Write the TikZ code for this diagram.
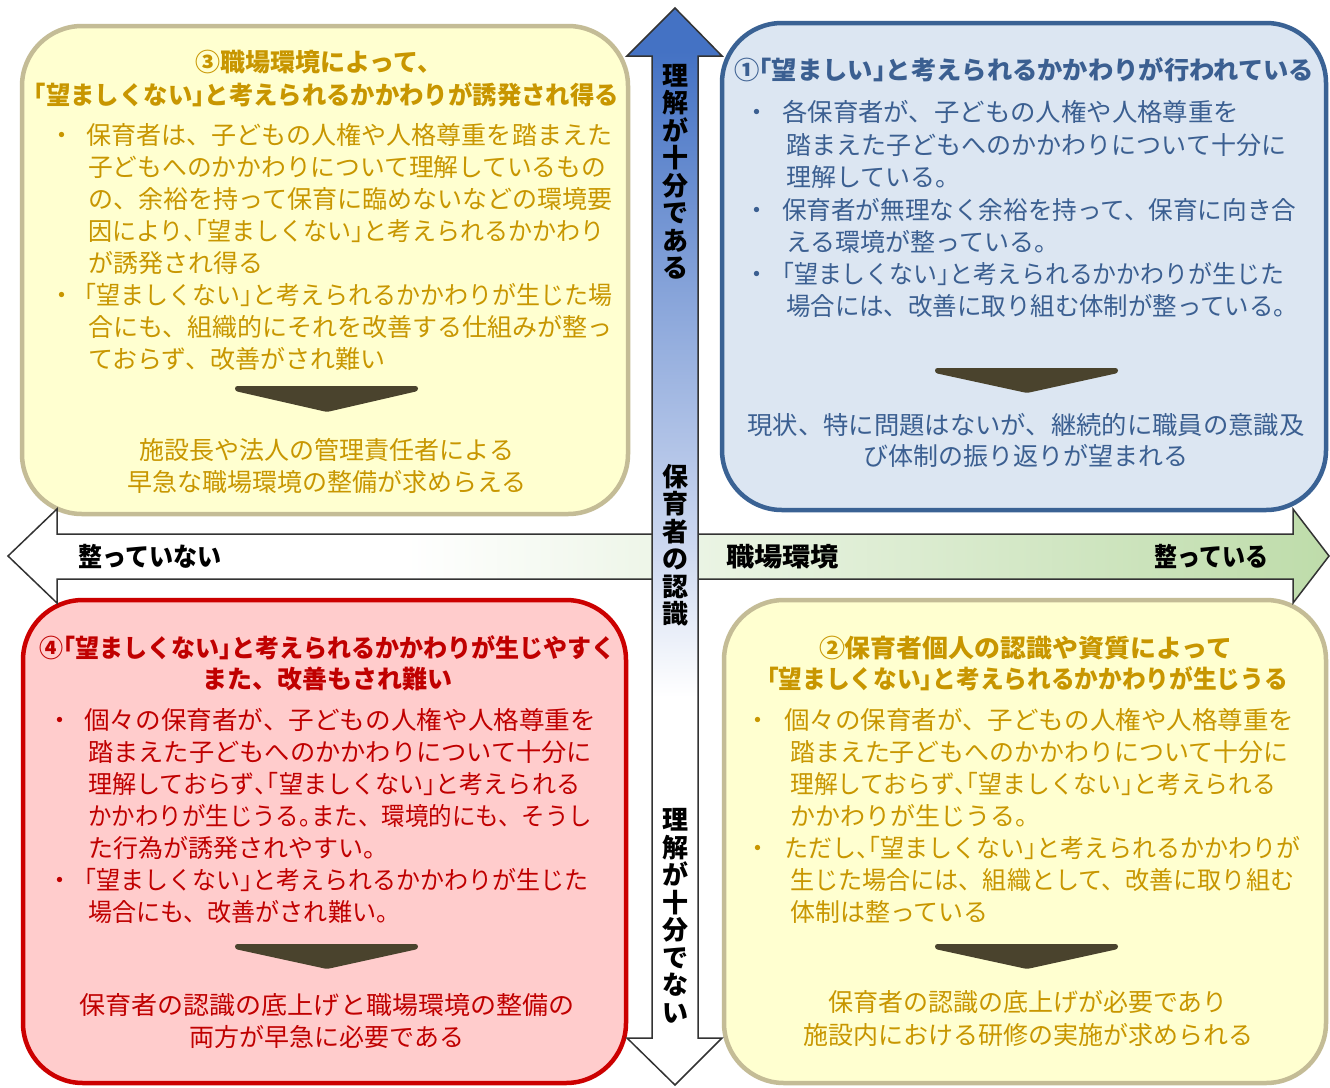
\documentclass[tikz,border=0pt]{standalone}
\usepackage{graphicx}
\usepackage{fontspec}
\setmainfont{Noto Sans CJK JP}
\newfontfamily\jph[RawFeature=+halt]{Noto Sans CJK JP}
\newcommand\jLB{{\jph 「}}
\newcommand\jRB{{\jph 」}}
\newcommand\jCL{{\jph 、「}}
\newcommand\jMR{{\jph 。}}
\newcommand\fw[2]{\resizebox{#1pt}{\height}{#2}}
\definecolor{tanB}{RGB}{196,188,150}
\definecolor{yelF}{RGB}{255,255,208}
\definecolor{bluB}{RGB}{58,98,148}
\definecolor{bluF}{RGB}{220,230,242}
\definecolor{redB}{RGB}{204,0,0}
\definecolor{redF}{RGB}{255,204,204}
\definecolor{txG}{RGB}{200,150,0}
\definecolor{txB}{RGB}{59,95,145}
\definecolor{txR}{RGB}{192,0,0}
\definecolor{chevC}{RGB}{74,67,45}
\definecolor{vtop}{RGB}{68,114,196}
\definecolor{vmid}{RGB}{205,216,240}
\definecolor{hgreen}{RGB}{190,220,170}
\pgfdeclareverticalshading{vsh}{100bp}{color(0bp)=(white); color(25bp)=(white); color(43bp)=(white); color(50bp)=(vmid); color(73bp)=(vtop); color(100bp)=(vtop)}
\pgfdeclarehorizontalshading{hsh}{100bp}{color(0bp)=(white); color(25bp)=(white); color(40bp)=(white); color(75bp)=(hgreen); color(100bp)=(hgreen)}
\tikzset{
 box/.style={line width=4.5pt, rounded corners=60pt},
 arrowline/.style={line width=1.5pt, draw=black!80, line join=miter},
 chev/.style={fill=chevC, rounded corners=2.5pt},
 body/.style={anchor=base west, inner sep=0pt, font=\fontsize{25}{30}\selectfont},
 ctr/.style={anchor=base, inner sep=0pt, font=\fontsize{25}{30}\selectfont},
 ttl/.style={anchor=base, inner sep=0pt, font=\bfseries\fontsize{25}{30}\selectfont},
 bul/.style={anchor=base, inner sep=0pt, font=\fontsize{25}{30}\selectfont},
 hlab/.style={anchor=base west, inner sep=0pt, font=\bfseries\fontsize{26}{30}\selectfont, text=black},
 vlab/.style={align=center, inner sep=0pt, font=\bfseries\fontsize{26}{27.5}\selectfont, text=black},
}
\begin{document}
\begin{tikzpicture}[x=1pt,y=-1pt]
\useasboundingbox[fill=white] (0,0) rectangle (1330,1087);

% quadrant boxes
\draw[box, draw=tanB, fill=yelF] (22,26) rectangle (628,514);
\draw[box, draw=bluB, fill=bluF] (722,23) rectangle (1326,510);
\draw[box, draw=redB, fill=redF] (23,600) rectangle (626,1083);
\draw[box, draw=tanB, fill=yelF] (724,600) rectangle (1326,1083);

% axes
\shadedraw[shading=hsh, arrowline] (8,556) -- (57,509) -- (57,534) -- (1293,534) -- (1293,509) -- (1329,556) -- (1293,603) -- (1293,579) -- (57,579) -- (57,603) -- cycle;
\shadedraw[shading=vsh, arrowline] (675,8) -- (722,56) -- (698,56) -- (698,1038) -- (722,1038) -- (675,1085) -- (627,1038) -- (652,1038) -- (652,56) -- (627,56) -- cycle;

% axis labels
\node[hlab] (hl1) at (78,566) {\fw{143}{整っていない}};
\node[hlab] (hl2) at (726,566) {\fw{113}{職場環境}};
\node[hlab] (hl3) at (1154,566) {\fw{114}{整っている}};
\node[vlab] (vl1) at (675,172) {理\\解\\が\\十\\分\\で\\あ\\る};
\node[vlab] (vl2) at (675,545) {保\\育\\者\\の\\認\\識};
\node[vlab] (vl3) at (675,916) {理\\解\\が\\十\\分\\で\\な\\い};

% box 3 (top left)
\node[ttl,text=txG] (t3a) at (319,71.5) {③職場環境によって、};
\node[ttl,text=txG] (t3b) at (326.5,104.5) {\fw{585}{\jLB{}望ましくない\jRB{}と考えられるかかわりが誘発され得る}};
\node[bul,text=txG] (d3a) at (62,144.5) {・};
\node[body,text=txG] (b3a) at (86,144.5) {\fw{526}{保育者は、子どもの人権や人格尊重を踏まえた}};
\node[body,text=txG] (b3b) at (88,176.5) {\fw{518}{子どもへのかかわりについて理解しているもの}};
\node[body,text=txG] (b3c) at (88,208.5) {\fw{524}{の、余裕を持って保育に臨めないなどの環境要}};
\node[body,text=txG] (b3d) at (88,240.5) {\fw{516}{因により\jCL{}望ましくない\jRB{}と考えられるかかわり}};
\node[body,text=txG] (b3e) at (88,272.5) {が誘発され得る};
\node[bul,text=txG] (d3b) at (62,304.5) {・};
\node[body,text=txG] (b3f) at (84,304.5) {\fw{528}{\jLB{}望ましくない\jRB{}と考えられるかかわりが生じた場}};
\node[body,text=txG] (b3g) at (88,336.5) {\fw{524}{合にも、組織的にそれを改善する仕組みが整っ}};
\node[body,text=txG] (b3h) at (88,368.5) {ておらず、改善がされ難い};
\fill[chev] (235,386) -- (418,386) -- (418,391) -- (327,412) -- (235,391) -- cycle;
\node[ctr,text=txG] (c3a) at (327,459.5) {施設長や法人の管理責任者による};
\node[ctr,text=txG] (c3b) at (327,491.5) {早急な職場環境の整備が求めらえる};

% box 1 (top right)
\node[ttl,text=txB] (t1a) at (1024,79.5) {\fw{580}{①\jLB{}望ましい\jRB{}と考えられるかかわりが行われている}};
\node[bul,text=txB] (d1a) at (757,121.5) {・};
\node[body,text=txB] (b1a) at (782,121.5) {\fw{457}{各保育者が、子どもの人権や人格尊重を}};
\node[body,text=txB] (b1b) at (786,154.5) {\fw{500}{踏まえた子どもへのかかわりについて十分に}};
\node[body,text=txB] (b1c) at (786,186.5) {理解している。};
\node[bul,text=txB] (d1b) at (757,219.5) {・};
\node[body,text=txB] (b1d) at (782,219.5) {\fw{514}{保育者が無理なく余裕を持って、保育に向き合}};
\node[body,text=txB] (b1e) at (786,251.5) {える環境が整っている。};
\node[bul,text=txB] (d1c) at (757,283.5) {・};
\node[body,text=txB] (b1f) at (782,283.5) {\fw{502}{\jLB{}望ましくない\jRB{}と考えられるかかわりが生じた}};
\node[body,text=txB] (b1g) at (786,315.5) {\fw{512}{場合には、改善に取り組む体制が整っている。}};
\fill[chev] (935,368) -- (1118,368) -- (1118,373) -- (1027,393) -- (935,373) -- cycle;
\node[ctr,text=txB] (c1a) at (1026,434.5) {\fw{557}{現状、特に問題はないが、継続的に職員の意識及}};
\node[ctr,text=txB] (c1b) at (1026,465.5) {び体制の振り返りが望まれる};

% box 4 (bottom left)
\node[ttl,text=txR] (t4a) at (327.5,657.5) {\fw{577}{④\jLB{}望ましくない\jRB{}と考えられるかかわりが生じやすく}};
\node[ttl,text=txR] (t4b) at (327,688.5) {また、改善もされ難い};
\node[bul,text=txR] (d4a) at (60,729.5) {・};
\node[body,text=txR] (b4a) at (84,729.5) {\fw{512}{個々の保育者が、子どもの人権や人格尊重を}};
\node[body,text=txR] (b4b) at (88,761.5) {\fw{504}{踏まえた子どもへのかかわりについて十分に}};
\node[body,text=txR] (b4c) at (88,793.5) {\fw{492}{理解しておらず\jCL{}望ましくない\jRB{}と考えられる}};
\node[body,text=txR] (b4d) at (88,825.5) {\fw{504}{かかわりが生じうる\jMR{}また、環境的にも、そうし}};
\node[body,text=txR] (b4e) at (88,857.5) {た行為が誘発されやすい。};
\node[bul,text=txR] (d4b) at (60,889.5) {・};
\node[body,text=txR] (b4f) at (84,889.5) {\fw{504}{\jLB{}望ましくない\jRB{}と考えられるかかわりが生じた}};
\node[body,text=txR] (b4g) at (88,921.5) {\fw{312}{場合にも、改善がされ難い。}};
\fill[chev] (235,944) -- (418,944) -- (418,949) -- (327,969) -- (235,949) -- cycle;
\node[ctr,text=txR] (c4a) at (327,1014.5) {\fw{495}{保育者の認識の底上げと職場環境の整備の}};
\node[ctr,text=txR] (c4b) at (327,1046.5) {両方が早急に必要である};

% box 2 (bottom right)
\node[ttl,text=txG] (t2a) at (1025.5,657.5) {\fw{413}{②保育者個人の認識や資質によって}};
\node[ttl,text=txG] (t2b) at (1027.5,688.5) {\fw{521}{\jLB{}望ましくない\jRB{}と考えられるかかわりが生じうる}};
\node[bul,text=txG] (d2a) at (758,729.5) {・};
\node[body,text=txG] (b2a) at (784,729.5) {\fw{510}{個々の保育者が、子どもの人権や人格尊重を}};
\node[body,text=txG] (b2b) at (790,761.5) {\fw{498}{踏まえた子どもへのかかわりについて十分に}};
\node[body,text=txG] (b2c) at (790,793.5) {\fw{486}{理解しておらず\jCL{}望ましくない\jRB{}と考えられる}};
\node[body,text=txG] (b2d) at (790,825.5) {かかわりが生じうる。};
\node[bul,text=txG] (d2b) at (758,857.5) {・};
\node[body,text=txG] (b2e) at (784,857.5) {\fw{516}{ただし\jCL{}望ましくない\jRB{}と考えられるかかわりが}};
\node[body,text=txG] (b2f) at (790,889.5) {\fw{504}{生じた場合には、組織として、改善に取り組む}};
\node[body,text=txG] (b2g) at (790,921.5) {体制は整っている};
\fill[chev] (935,944) -- (1118,944) -- (1118,949) -- (1027,969) -- (935,949) -- cycle;
\node[ctr,text=txG] (c2a) at (1028,1011.5) {保育者の認識の底上げが必要であり};
\node[ctr,text=txG] (c2b) at (1028,1044.5) {施設内における研修の実施が求められる};
\end{tikzpicture}
\end{document}
